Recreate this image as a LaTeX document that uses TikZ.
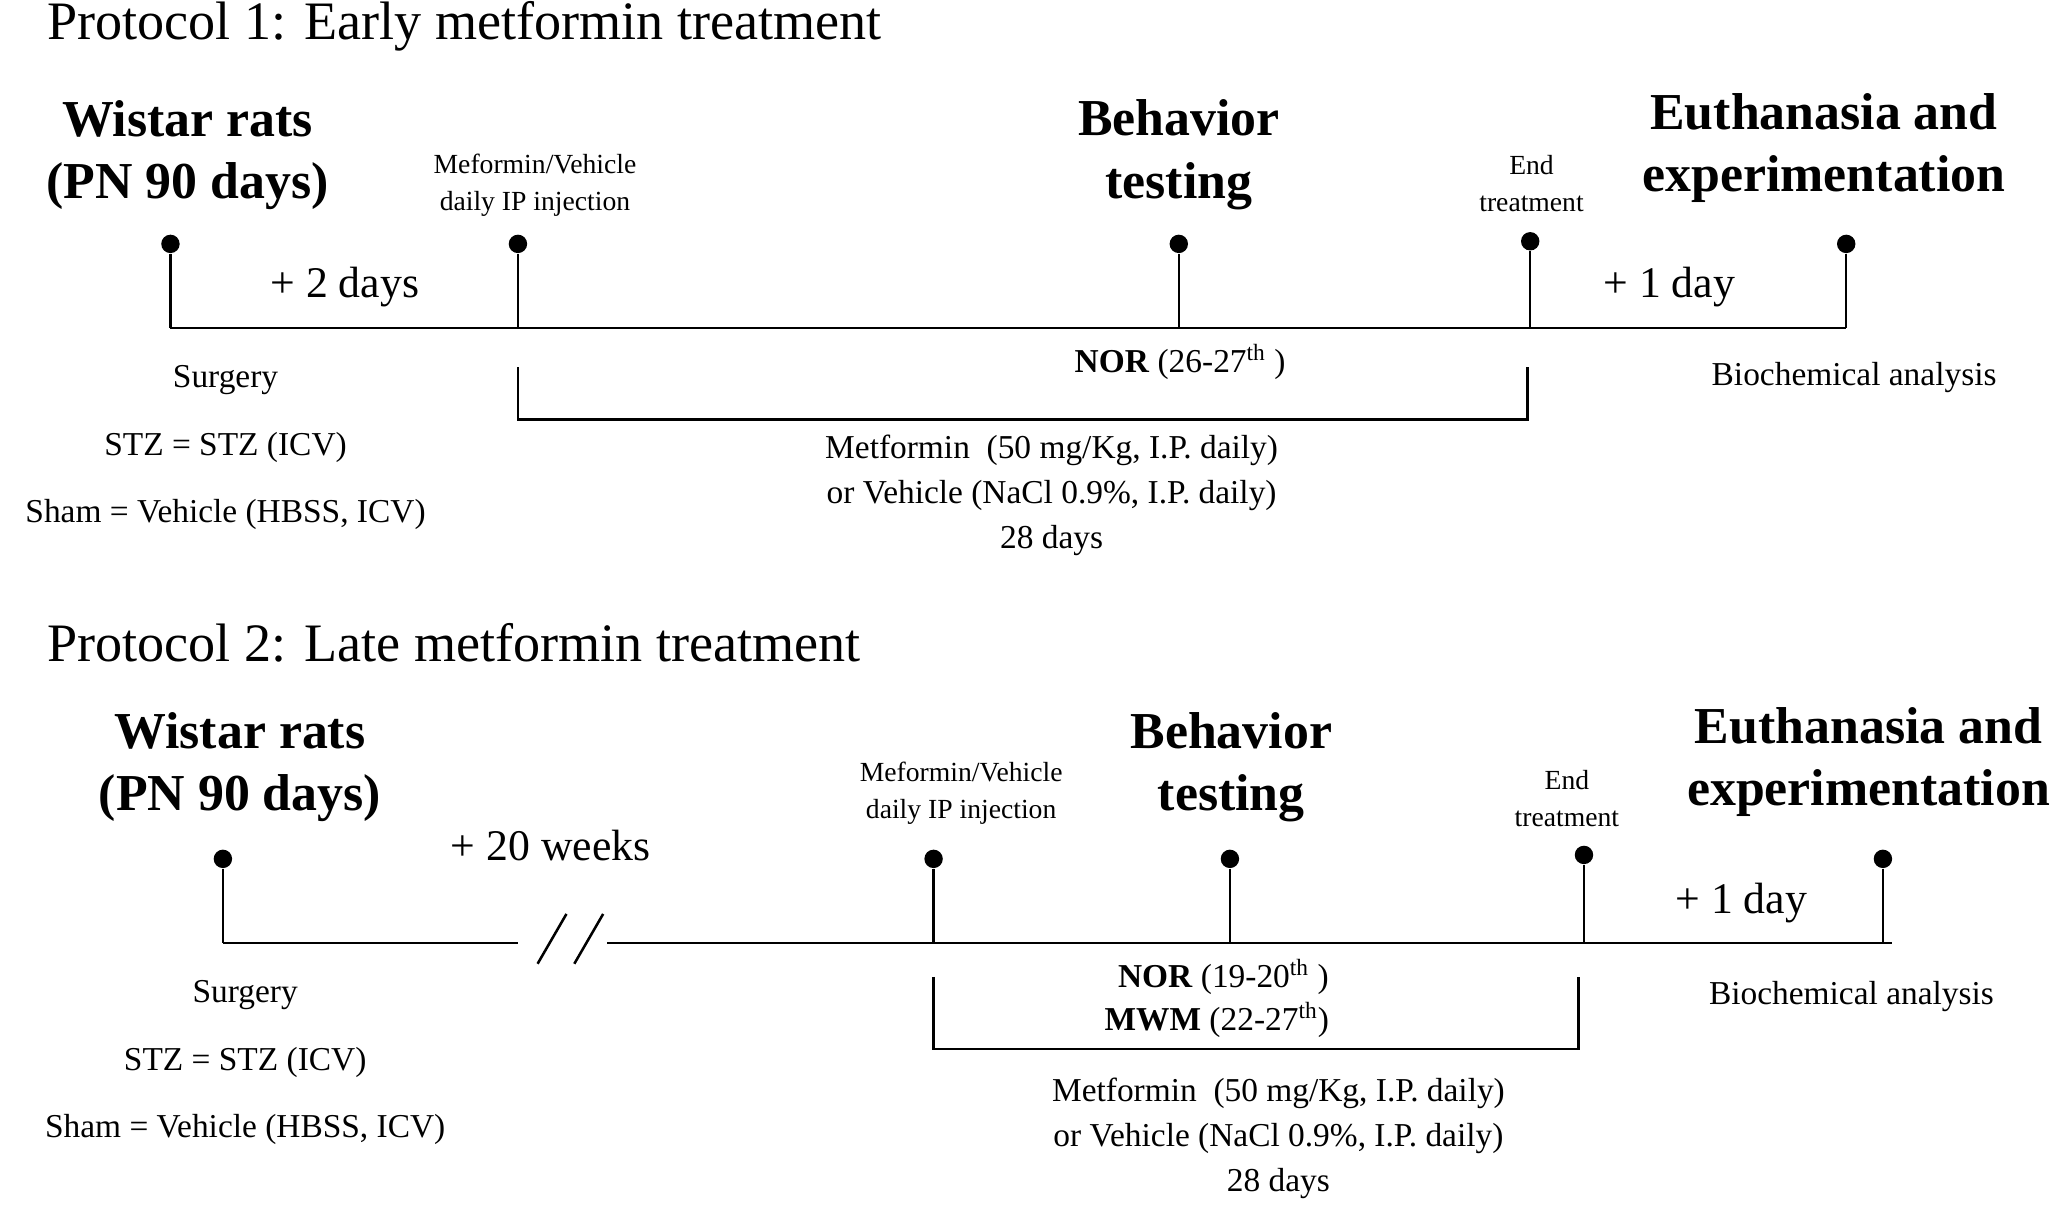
\documentclass[tikz,border=0pt]{standalone}
\usepackage{fontspec}
\setmainfont{Liberation Serif}
\begin{document}
\begin{tikzpicture}[x=0.02cm,y=-0.02cm,
 ttl/.style={font=\fontsize{23.5}{26}\selectfont,anchor=west},
 big/.style={font=\fontsize{22.5}{27}\selectfont\bfseries,align=center},
 sm/.style={font=\fontsize{12}{16}\selectfont,align=center},
 md/.style={font=\fontsize{19}{22}\selectfont},
 lb/.style={font=\fontsize{14.5}{19.5}\selectfont,align=center},
 ln/.style={line width=1.1pt},
 dot/.style={circle,fill=black,inner sep=0pt,minimum size=8pt}]
\useasboundingbox (0,0) rectangle (1568,920);
% Protocol 1
\node[ttl] (t1) at (30,20) {Protocol 1: Early metformin treatment};
\coordinate (a0) at (130,250); \coordinate (a4) at (1408,250);
\draw[ln] (a0) -- (a4);
\foreach \n/\x/\y in {a1/130/186,a2/395/186,a3/899/186,a5/1167/184,a6/1408/186}{
 \node[dot] (\n) at (\x,\y) {}; \coordinate (\n b) at (\x,250); \draw[ln] (\n) -- (\n b);}
\node[big] (w1) at (143,118) {Wistar rats\\(PN 90 days)};
\node[sm] (m1) at (408,141) {Meformin/Vehicle\\daily IP injection};
\node[big] (b1) at (899,118) {Behavior\\testing};
\node[sm] (e1) at (1168,140) {End\\treatment};
\node[big] (eu1) at (1391,113) {Euthanasia and\\experimentation};
\node[md] (d1) at (263,219) {+ 2 days};
\node[md] (d2) at (1273,219) {+ 1 day};
\node[lb] (s1) at (172,290) {Surgery};
\node[lb] (s2) at (172,341) {STZ = STZ (ICV)};
\node[lb] (s3) at (172,392) {Sham = Vehicle (HBSS, ICV)};
\node[lb] (n1) at (900,276) {\textbf{NOR} (26-27\textsuperscript{th} )};
\coordinate (k1) at (395,280); \coordinate (k2) at (1165,280);
\draw[ln] (k1) -- ++(0,40) -| (k2);
\node[lb] (mt1) at (802,378) {Metformin\ \ (50 mg/Kg, I.P. daily)\\or Vehicle (NaCl 0.9\%, I.P. daily)\\28 days};
\node[lb] (bc1) at (1414,288) {Biochemical analysis};
% Protocol 2
\node[ttl] (t2) at (30,490) {Protocol 2: Late metformin treatment};
\coordinate (c0) at (170,719); \coordinate (c1) at (395,719);
\coordinate (c2) at (463,719); \coordinate (c3) at (1443,719);
\draw[ln] (c0) -- (c1); \draw[ln] (c2) -- (c3);
\coordinate (sl1) at (432,697); \coordinate (sl2) at (410,735);
\coordinate (sl3) at (460,697); \coordinate (sl4) at (438,735);
\draw[ln] (sl1) -- (sl2); \draw[ln] (sl3) -- (sl4);
\foreach \n/\x/\y in {p1/170/655,p2/712/655,p3/938/655,p5/1208/652,p6/1436/655}{
 \node[dot] (\n) at (\x,\y) {}; \coordinate (\n b) at (\x,719); \draw[ln] (\n) -- (\n b);}
\node[big] (w2) at (183,585) {Wistar rats\\(PN 90 days)};
\node[md] (d3) at (420,645) {+ 20 weeks};
\node[sm] (m2) at (733,605) {Meformin/Vehicle\\daily IP injection};
\node[big] (b2) at (939,585) {Behavior\\testing};
\node[sm] (e2) at (1195,609) {End\\treatment};
\node[big] (eu2) at (1425,581) {Euthanasia and\\experimentation};
\node[md] (d4) at (1328,689) {+ 1 day};
\node[lb] (s4) at (187,759) {Surgery};
\node[lb] (s5) at (187,810) {STZ = STZ (ICV)};
\node[lb] (s6) at (187,861) {Sham = Vehicle (HBSS, ICV)};
\node[lb] (n2) at (933,745) {\textbf{NOR} (19-20\textsuperscript{th} )};
\node[lb] (n3) at (928,778) {\textbf{MWM} (22-27\textsuperscript{th})};
\coordinate (k3) at (712,745); \coordinate (k4) at (1204,745);
\draw[ln] (k3) -- ++(0,55) -| (k4);
\node[lb] (mt2) at (975,868) {Metformin\ \ (50 mg/Kg, I.P. daily)\\or Vehicle (NaCl 0.9\%, I.P. daily)\\28 days};
\node[lb] (bc2) at (1412,760) {Biochemical analysis};
\end{tikzpicture}
\end{document}
